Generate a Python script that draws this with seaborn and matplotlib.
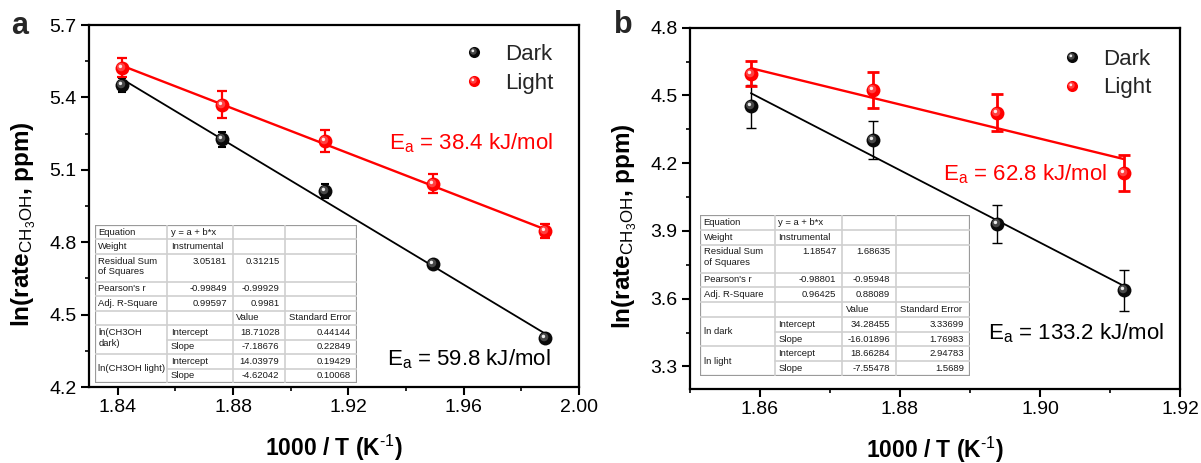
import numpy as np
import matplotlib
matplotlib.use("Agg")
import matplotlib.pyplot as plt
import seaborn as sns
from matplotlib.path import Path
from matplotlib.markers import MarkerStyle
from matplotlib.lines import Line2D
from matplotlib.legend_handler import HandlerTuple
from matplotlib.patches import Rectangle
from matplotlib.ticker import MultipleLocator, FormatStrFormatter

# ---------------- data ----------------
a_x = [1.8416, 1.8762, 1.9120, 1.9493, 1.9881]
a_dark_y = [5.451, 5.226, 5.012, 4.708, 4.405]
a_dark_err = [0.028, 0.032, 0.030, 0.016, 0.016]
a_light_y = [5.523, 5.370, 5.220, 5.043, 4.846]
a_light_err = [0.040, 0.055, 0.045, 0.040, 0.028]
a_ea_dark = "59.8"
a_ea_light = "38.4"

b_x = [1.8587, 1.8762, 1.8939, 1.9120]
b_dark_y = [4.453, 4.302, 3.932, 3.637]
b_dark_err = [0.095, 0.084, 0.085, 0.091]
b_light_y = [4.597, 4.523, 4.424, 4.157]
b_light_err = [0.055, 0.080, 0.081, 0.081]
b_ea_dark = "133.2"
b_ea_light = "62.8"

series_labels = ["Dark", "Light"]

# fit tables (strings as printed)
a_rss = ["3.05181", "0.31215"]
a_pearson = ["-0.99849", "-0.99929"]
a_adjr2 = ["0.99597", "0.9981"]
a_dark_fit = [["18.71028", "0.44144"], ["-7.18676", "0.22849"]]
a_light_fit = [["14.03979", "0.19429"], ["-4.62042", "0.10068"]]
a_groups = ["ln(CH3OH\ndark)", "ln(CH3OH light)"]

b_rss = ["1.18547", "1.68635"]
b_pearson = ["-0.98801", "-0.95948"]
b_adjr2 = ["0.96425", "0.88089"]
b_dark_fit = [["34.28455", "3.33699"], ["-16.01896", "1.76983"]]
b_light_fit = [["18.66284", "2.94783"], ["-7.55478", "1.5689"]]
b_groups = ["ln dark", "ln light"]

# ---------------- style ----------------
sns.set_theme(style="ticks")
plt.rcParams["font.family"] = ["Liberation Sans", "DejaVu Sans"]
plt.rcParams["mathtext.fontset"] = "custom"
plt.rcParams["mathtext.rm"] = "Liberation Sans"
plt.rcParams["mathtext.it"] = "Liberation Sans:italic"
plt.rcParams["mathtext.bf"] = "Liberation Sans:bold"

RED = "#ff0000"
BLK = "#000000"
W, H = 1201, 463

fig = plt.figure(figsize=(W / 100, H / 100), dpi=100)
fig.patch.set_facecolor("white")

HL = [(-0.2, 0.2, 0.6, "white", 0.25), (-0.3, 0.3, 0.25, "white", 0.9)]


def hl_marker(cx, cy, r):
    p = Path.circle((cx, cy), r)
    return MarkerStyle(p), float(np.max(np.abs(p.vertices)))


def balls(ax, x, y, color, size):
    sns.scatterplot(x=x, y=y, ax=ax, color=color, s=size ** 2, marker="o",
                    linewidth=0, zorder=4, legend=False)
    for cx, cy, r, c, al in HL:
        m, resc = hl_marker(cx, cy, r)
        sns.scatterplot(x=x, y=y, ax=ax, color=c, s=(size * resc) ** 2, marker=m,
                        linewidth=0, alpha=al, zorder=5, legend=False)


def legend_handle(color, size):
    hs = [Line2D([], [], ls="none", marker="o", ms=size, color=color, mew=0)]
    for cx, cy, r, c, al in HL:
        m, resc = hl_marker(cx, cy, r)
        hs.append(Line2D([], [], ls="none", marker=m, ms=size * resc, color=c,
                         alpha=al, mew=0))
    return tuple(hs)


def style_axes(ax, xmaj, xmin, ymaj, ymin, xfmt, yfmt, ylab_y):
    for s in ax.spines.values():
        s.set_linewidth(1.6)
        s.set_color("black")
        s.set_visible(True)
    ax.xaxis.set_major_locator(MultipleLocator(xmaj))
    ax.xaxis.set_minor_locator(MultipleLocator(xmin))
    ax.yaxis.set_major_locator(MultipleLocator(ymaj))
    ax.yaxis.set_minor_locator(MultipleLocator(ymin))
    ax.xaxis.set_major_formatter(FormatStrFormatter(xfmt))
    ax.yaxis.set_major_formatter(FormatStrFormatter(yfmt))
    ax.tick_params(which="both", direction="out", top=False, right=False,
                   color="black", labelsize=14, labelcolor="black")
    ax.tick_params(which="major", length=6, width=1.5, pad=3)
    ax.tick_params(which="minor", length=3, width=1.2)
    ax.set_facecolor("white")
    ax.grid(False)
    ax.set_xlabel(r"1000 / T (K$^{\text{-1}}$)", fontsize=16.5, fontweight="bold",
                  labelpad=12, color="black")
    ax.set_ylabel(r"ln(rate$_{\mathrm{CH_3OH}}$, ppm)", fontsize=17.5,
                  fontweight="bold", labelpad=8, color="black", y=ylab_y)


def panel(ax, x, dy, de, ly, le, dfit, lfit, ea_d, ea_l, ecap, elw, ea_pos, leg_anchor):
    x = np.asarray(x)
    xs = np.array([x.min(), x.max()])
    for fit, c, lw in [(dfit, BLK, 1.3), (lfit, RED, 1.7)]:
        a0 = float(fit[0][0]); b0 = float(fit[1][0])
        sns.lineplot(x=xs, y=a0 + b0 * xs, ax=ax, color=c, lw=lw, zorder=2)
    ax.errorbar(x, dy, yerr=de, fmt="none", ecolor=BLK, elinewidth=elw[0],
                capsize=ecap[0], capthick=elw[0], zorder=3)
    ax.errorbar(x, ly, yerr=le, fmt="none", ecolor=RED, elinewidth=elw[1],
                capsize=ecap[1], capthick=elw[1], zorder=3)
    balls(ax, x, dy, "#0a0a0a", 10)
    balls(ax, x, ly, RED, 10)
    (rx, ry), (bx, by) = ea_pos
    ax.text(rx, ry, r"E$_{\mathrm{a}}$ = " + ea_l + " kJ/mol", transform=ax.transAxes,
            ha="right", va="baseline", color=RED, fontsize=16)
    ax.text(bx, by, r"E$_{\mathrm{a}}$ = " + ea_d + " kJ/mol", transform=ax.transAxes,
            ha="right", va="baseline", color=BLK, fontsize=16)
    ax.legend([legend_handle("#0a0a0a", 8), legend_handle(RED, 8)], series_labels,
              handler_map={tuple: HandlerTuple(ndivide=1, pad=0)},
              loc="upper right", bbox_to_anchor=leg_anchor, frameon=False,
              fontsize=16, borderaxespad=0, borderpad=0, handlelength=1.0,
              handletextpad=0.9, labelspacing=0.35)


def draw_table(rect, rss, pearson, adjr2, dfit, lfit, groups, dark_two_line):
    tax = fig.add_axes(rect)
    tax.set_xlim(0, 1)
    tax.set_ylim(1, 0)
    tax.axis("off")
    tax.add_patch(Rectangle((0, 0), 1, 1, facecolor="white", edgecolor="none"))
    cw = np.array([217, 196, 157, 215], float)
    ce = np.concatenate([[0], np.cumsum(cw)]) / cw.sum()
    rh = np.array([1, 1, 1.9, 1, 1, 1, 1, 1, 1, 1], float)
    re_ = np.concatenate([[0], np.cumsum(rh)]) / rh.sum()
    unit = 1 / rh.sum()
    gl = dict(color="#cfcfcf", lw=1.2)
    for i in range(1, 10):
        x0 = ce[1] if i in (7, 9) else 0
        tax.plot([x0, 1], [re_[i], re_[i]], **gl)
    for j in range(1, 4):
        tax.plot([ce[j], ce[j]], [0, 1], **gl)
    tax.add_patch(Rectangle((0, 0), 1, 1, facecolor="none", edgecolor="#9a9a9a", lw=1.6))
    fs = 6.8
    tc = "#1a1a1a"
    lp, rp = 0.013, 0.022

    def t(row, col, s, ha="left", yoff=0.0):
        y = re_[row] + 0.5 * unit + yoff
        x = ce[col] + lp if ha == "left" else ce[col + 1] - rp
        tax.text(x, y, s, ha=ha, va="center", fontsize=fs, color=tc)

    t(0, 0, "Equation"); t(0, 1, "y = a + b*x")
    t(1, 0, "Weight"); t(1, 1, "Instrumental")
    t(2, 0, "Residual Sum"); t(2, 0, "of Squares", yoff=0.69 * unit)
    t(2, 1, rss[0], "right"); t(2, 2, rss[1], "right")
    t(3, 0, "Pearson's r"); t(3, 1, pearson[0], "right"); t(3, 2, pearson[1], "right")
    t(4, 0, "Adj. R-Square"); t(4, 1, adjr2[0], "right"); t(4, 2, adjr2[1], "right")
    t(5, 2, "Value"); t(5, 3, "Standard Error")
    for r0, fit in [(6, dfit), (8, lfit)]:
        t(r0, 1, "Intercept"); t(r0 + 1, 1, "Slope")
        t(r0, 2, fit[0][0], "right"); t(r0, 3, fit[0][1], "right")
        t(r0 + 1, 2, fit[1][0], "right"); t(r0 + 1, 3, fit[1][1], "right")
    if dark_two_line:
        l1, l2 = groups[0].split("\n")
        t(6, 0, l1); t(6, 0, l2, yoff=0.8 * unit)
    else:
        t(6, 0, groups[0], yoff=0.5 * unit)
    t(8, 0, groups[1], yoff=0.5 * unit)


# ---------------- panel a ----------------
ax_a = fig.add_axes([89 / W, 76 / H, 490 / W, 362 / H])
ax_a.set_xlim(1.83, 2.00)
ax_a.set_ylim(4.2, 5.7)
style_axes(ax_a, 0.04, 0.02, 0.3, 0.15, "%.2f", "%.1f", 0.45)
panel(ax_a, a_x, a_dark_y, a_dark_err, a_light_y, a_light_err, a_dark_fit, a_light_fit,
      a_ea_dark, a_ea_light, (3.0, 3.3), (1.5, 1.6),
      ((0.947, 0.655), (0.943, 0.061)), (0.947, 0.947))
draw_table([95 / W, (H - 383) / H, 262 / W, 158 / H],
           a_rss, a_pearson, a_adjr2, a_dark_fit, a_light_fit, a_groups, True)

# ---------------- panel b ----------------
ax_b = fig.add_axes([690 / W, 74 / H, 490 / W, 361.3 / H])
ax_b.set_xlim(1.85, 1.92)
ax_b.set_ylim(3.2, 4.8)
style_axes(ax_b, 0.02, 0.01, 0.3, 0.15, "%.2f", "%.1f", 0.45)
panel(ax_b, b_x, b_dark_y, b_dark_err, b_light_y, b_light_err, b_dark_fit, b_light_fit,
      b_ea_dark, b_ea_light, (3.5, 4.0), (1.0, 2.0),
      ((0.851, 0.578), (0.969, 0.138)), (0.941, 0.942))
draw_table([700 / W, (H - 376) / H, 270 / W, 161 / H],
           b_rss, b_pearson, b_adjr2, b_dark_fit, b_light_fit, b_groups, False)

# panel letters
fig.text(11 / W, 1 - 34 / H, "a", fontsize=22, fontweight="bold", ha="left", va="baseline")
fig.text(614 / W, 1 - 33 / H, "b", fontsize=22, fontweight="bold", ha="left", va="baseline")

fig.savefig("out.png", dpi=100, facecolor="white")
